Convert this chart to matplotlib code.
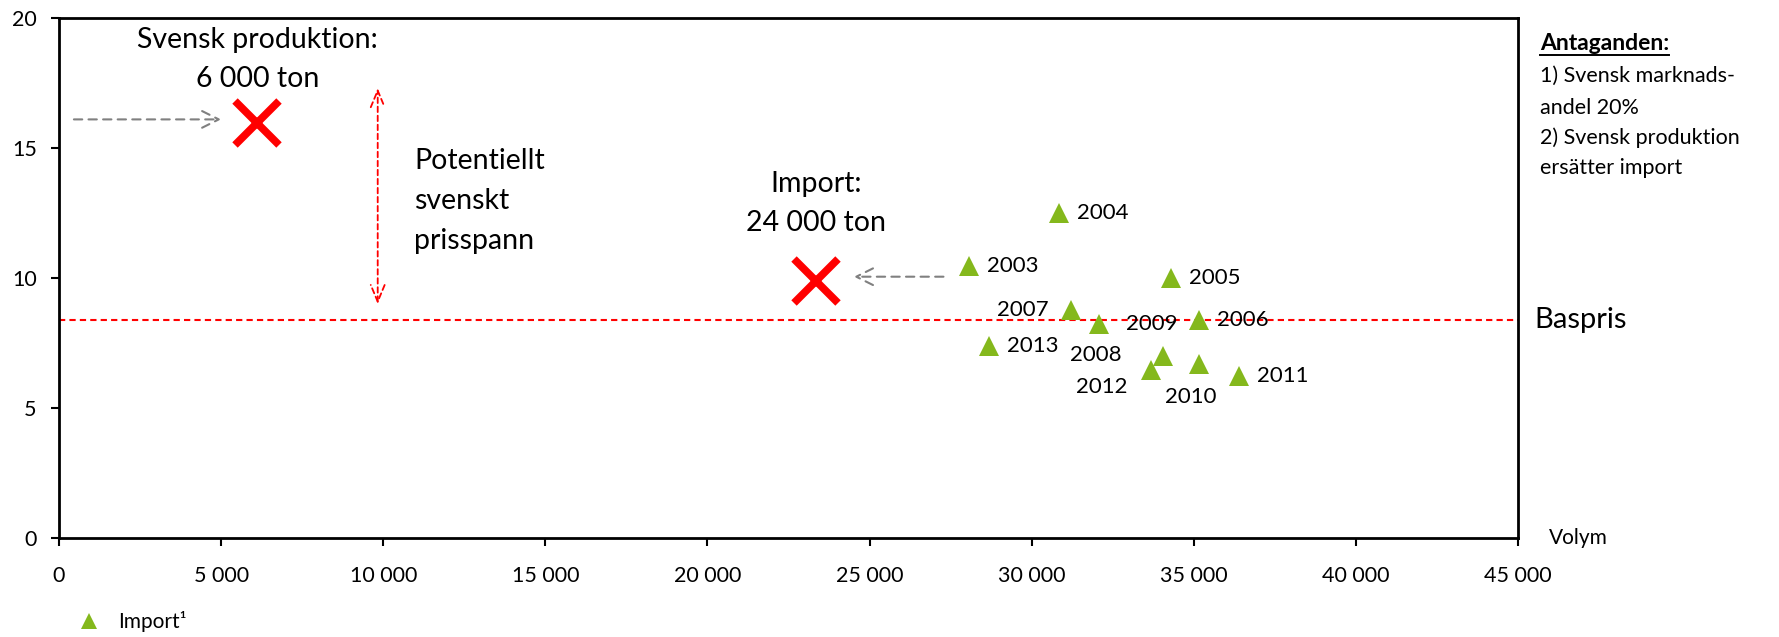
import matplotlib
matplotlib.use("Agg")
import matplotlib.pyplot as plt
from matplotlib.ticker import FuncFormatter

plt.rcParams['font.family'] = ['Lato', 'DejaVu Sans']

# ---- data ----
years = ['2003', '2004', '2005', '2006', '2007', '2008', '2009', '2010', '2011', '2012', '2013']
import_volume = [28070, 30840, 34300, 35160, 31210, 32080, 34050, 35160, 36400, 33680, 28690]
import_price = [10.47, 12.49, 9.99, 8.38, 8.77, 8.23, 7.01, 6.69, 6.24, 6.46, 7.40]

baspris = 8.38
svensk_volume, svensk_price = 6120, 15.98
import_x_volume, import_x_price = 23360, 9.88

x_ticks = [0, 5000, 10000, 15000, 20000, 25000, 30000, 35000, 40000, 45000]
y_ticks = [0, 5, 10, 15, 20]

# label offsets in pixels (dx, dy, ha)
label_offsets = {
    '2003': (18, 0, 'left'), '2004': (18, 0, 'left'), '2005': (18, 0, 'left'),
    '2006': (18, 0, 'left'), '2011': (18, 0, 'left'), '2013': (18, 0, 'left'),
    '2007': (-22, 0, 'right'), '2008': (-3, -31, 'center'),
    '2009': (-11, 32, 'center'), '2012': (-49, -17, 'center'),
    '2010': (-8, -33, 'center'),
}

green = '#84b81c'

fig = plt.figure(figsize=(17.79, 6.37), dpi=100)
ax = fig.add_axes([59 / 1779, 1 - 538 / 637, (1518 - 59) / 1779, (538 - 18) / 637])

ax.set_xlim(0, 45000)
ax.set_ylim(0, 20)
ax.set_xticks(x_ticks)
ax.set_yticks(y_ticks)
ax.xaxis.set_major_formatter(FuncFormatter(lambda v, p: f"{int(v):,}".replace(',', ' ')))
ax.tick_params(axis='both', direction='out', length=6, width=1.5, labelsize=15.5, colors='black')
ax.tick_params(axis='x', pad=14)
ax.tick_params(axis='y', pad=10)
for s in ax.spines.values():
    s.set_linewidth(2)
    s.set_color('black')

# Baspris line
ax.axhline(baspris, color='red', linestyle=(0, (3, 2)), linewidth=1.5, zorder=1)

# import points
pts, = ax.plot(import_volume, import_price, linestyle='none', marker='^', markersize=15,
               color=green, markeredgewidth=0, zorder=3, label='Import¹')
for yr, xv, yv in zip(years, import_volume, import_price):
    dx, dy, ha = label_offsets[yr]
    ax.annotate(yr, (xv, yv), xytext=(dx, dy), textcoords='offset pixels',
                ha=ha, va='center', fontsize=16, color='black', zorder=4)

# red crosses
ax.plot([svensk_volume], [svensk_price], marker='x', markersize=31, markeredgewidth=5.5,
        color='red', linestyle='none', zorder=3)
ax.plot([import_x_volume], [import_x_price], marker='x', markersize=31, markeredgewidth=5.5,
        color='red', linestyle='none', zorder=3)

# gray dashed arrows
arrow_gray = dict(arrowstyle='->,head_length=1.2,head_width=0.6', color='#808080',
                  linestyle=(0, (4, 3)), linewidth=1.5, shrinkA=0, shrinkB=0)
ax.annotate('', xy=(5000, 16.1), xytext=(460, 16.1), arrowprops=arrow_gray)
ax.annotate('', xy=(24520, 10.05), xytext=(27280, 10.05), arrowprops=arrow_gray)

# red double arrow
ax.annotate('', xy=(9830, 17.3), xytext=(9830, 9.0),
            arrowprops=dict(arrowstyle='<->,head_length=1.2,head_width=0.5', color='red',
                            linestyle=(0, (3, 2)), linewidth=1.3, shrinkA=0, shrinkB=0))

# texts
big = 20.5
ax.text(svensk_volume, 19.17, 'Svensk produktion:', ha='center', va='center', fontsize=big)
ax.text(svensk_volume, 17.64, '6 000 ton', ha='center', va='center', fontsize=big)
for txt, yv in [('Potentiellt', 14.5), ('svenskt', 12.96), ('prisspann', 11.44)]:
    ax.text(10950, yv, txt, ha='left', va='center', fontsize=big)
ax.text(import_x_volume, 13.6, 'Import:', ha='center', va='center', fontsize=big)
ax.text(import_x_volume, 12.13, '24 000 ton', ha='center', va='center', fontsize=big)

# outside texts (figure pixel coords)
def fx(px):
    return px / 1779

def fy(py):
    return 1 - py / 637

fig.text(fx(1534), fy(320), 'Baspris', ha='left', va='center', fontsize=21)
fig.text(fx(1549), fy(538), 'Volym', ha='left', va='center', fontsize=15)
head = fig.text(fx(1540), fy(43), 'Antaganden:', ha='left', va='center', fontsize=16.5,
                fontweight='bold')
for txt, py in [('1) Svensk marknads-', 76), ('andel 20%', 108),
                ('2) Svensk produktion', 138), ('ersätter import', 168)]:
    fig.text(fx(1540), fy(py), txt, ha='left', va='center', fontsize=15.5)

fig.canvas.draw()
bb = head.get_window_extent()
fig.add_artist(plt.Line2D([bb.x0 / 1779, bb.x1 / 1779], [fy(55), fy(55)],
                          color='black', linewidth=1.4))

# legend
fig.legend(handles=[pts], labels=['Import¹'], loc='center left',
           bbox_to_anchor=(fx(58), fy(622)), frameon=False, fontsize=15,
           handlelength=1.2, handletextpad=0.8, markerscale=0.8)

fig.savefig('out.png', dpi=100, facecolor='white')
